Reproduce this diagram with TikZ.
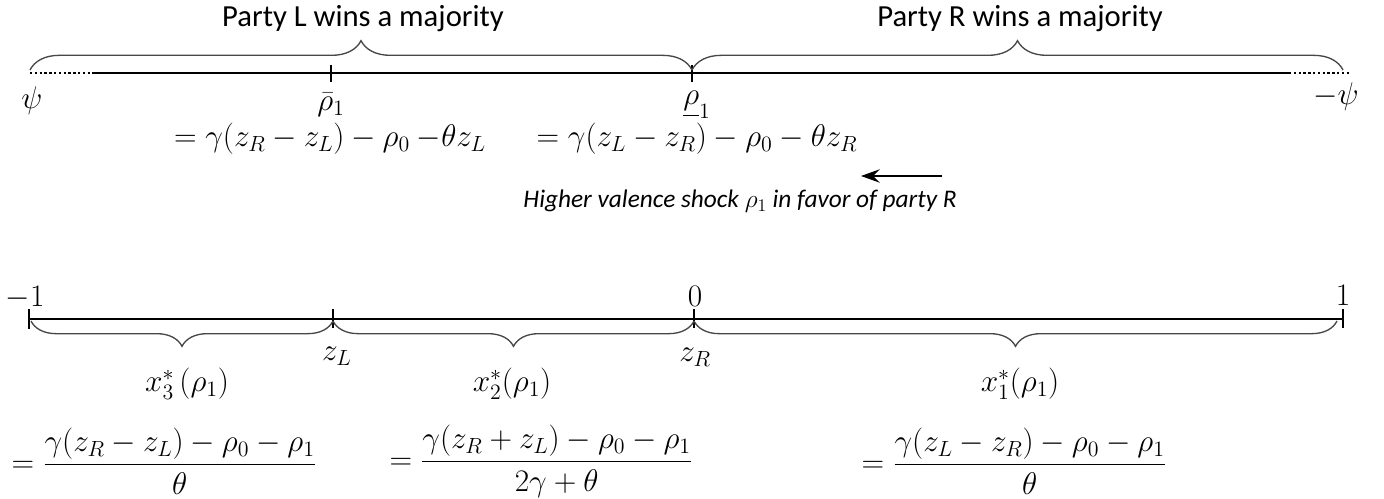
\RequirePackage{fix-cm}
\documentclass[tikz,border=0pt]{standalone}
\usepackage{amsmath}
\usepackage{fontspec}
\newfontfamily\carl{Carlito}
\usetikzlibrary{decorations.pathreplacing,arrows.meta}
\begin{document}
\begin{tikzpicture}[x=0.75pt,y=-0.75pt,
  axis/.style={line width=2.2pt},
  dots/.style={line width=2.2pt, dash pattern=on 1.8pt off 1.8pt},
  tick/.style={line width=1.9pt},
  bracetop/.style={draw=black!72, line width=1pt, decorate, decoration={brace, amplitude=22pt}},
  bracebot/.style={draw=black!72, line width=1pt, decorate, decoration={brace, mirror, amplitude=19pt}},
  arr/.style={line width=1.6pt, -{Stealth[length=14pt, width=10pt, inset=5pt]}},
  txt/.style={font=\carl\fontsize{23}{27}\selectfont, inner sep=0pt},
  itxt/.style={font=\carl\itshape\fontsize{19}{23}\selectfont, inner sep=0pt},
  mth/.style={font=\fontsize{23.5}{28}\selectfont, inner sep=0pt}]
\useasboundingbox (0,0) rectangle (1384,499);

% ---------- top axis ----------
\node[txt] (pl) at (363,19) {Party L wins a majority};
\node[txt] (pr) at (1020,19) {Party R wins a majority};

\coordinate (a0) at (30,73);
\coordinate (a1) at (92,73);
\coordinate (a2) at (1289,73);
\coordinate (a3) at (1351,73);
\draw[dots] (a0) -- (a1);
\draw[axis] (a1) -- (a2);
\draw[dots] (a2) -- (a3);

\coordinate (t1u) at (331,65); \coordinate (t1d) at (331,82);
\coordinate (t2u) at (692,65); \coordinate (t2d) at (692,82);
\draw[tick] (t1u) -- (t1d);
\draw[tick] (t2u) -- (t2d);

\coordinate (b0) at (30,70);
\coordinate (b1) at (692,70);
\coordinate (b2) at (1343,70);
\draw[bracetop] (b0) -- (b1);
\draw[bracetop] (b1) -- (b2);

\node[mth] (psi) at (32,101) {$\psi$};
\node[mth] (rbar) at (331,105) {$\bar{\rho}_1$};
\node[mth] (rund) at (697,105) {$\underline{\rho}_1$};
\node[mth] (mpsi) at (1336,97) {$-\psi$};
\node[mth] (e1) at (330,139) {$=\gamma(z_R-z_L)-\rho_0\mskip\medmuskip{-}\theta z_L$};
\node[mth] (e2) at (697,139) {$=\gamma(z_L-z_R)-\rho_0-\theta z_R$};

\coordinate (ar0) at (942,176);
\coordinate (ar1) at (861,176);
\draw[arr] (ar0) -- (ar1);
\node[itxt, anchor=east] (hv) at (957,201) {Higher valence shock $\rho_1$ in favor of party R};

% ---------- bottom axis ----------
\coordinate (c0) at (29,319);
\coordinate (c3) at (1343,319);
\draw[axis] (c0) -- (c3);
\coordinate (s0u) at (29,309);   \coordinate (s0d) at (29,329);
\coordinate (s1u) at (333,309);  \coordinate (s1d) at (333,328);
\coordinate (s2u) at (694,309);  \coordinate (s2d) at (694,328);
\coordinate (s3u) at (1343,309); \coordinate (s3d) at (1343,328);
\draw[tick] (s0u) -- (s0d);
\draw[tick] (s1u) -- (s1d);
\draw[tick] (s2u) -- (s2d);
\draw[tick] (s3u) -- (s3d);

\coordinate (d0) at (31,321);
\coordinate (d1) at (333,321);
\coordinate (d2) at (694,321);
\coordinate (d3) at (1337,321);
\draw[bracebot] (d0) -- (d1);
\draw[bracebot] (d1) -- (d2);
\draw[bracebot] (d2) -- (d3);

\node[mth] (lm1) at (25,298) {$-1$};
\node[mth] (l0) at (695,296) {$0$};
\node[mth] (l1) at (1343,295) {$1$};
\node[mth] (zl) at (337,356) {$z_L$};
\node[mth] (zr) at (695,357) {$z_R$};
\node[mth] (x3) at (187,384) {$x_3^*\,(\rho_1)$};
\node[mth] (x2) at (512,384) {$x_2^*(\rho_1)$};
\node[mth] (x1) at (1020,384) {$x_1^*(\rho_1)$};

\node[mth] (f1) at (164,461) {$=\dfrac{\gamma(z_R-z_L)-\rho_0-\rho_1}{\theta}$};
\node[mth] (f2) at (541,461) {$=\dfrac{\gamma(z_R+z_L)-\rho_0-\rho_1}{2\gamma+\theta}$};
\node[mth] (f3) at (1014,461) {$=\dfrac{\gamma(z_L-z_R)-\rho_0-\rho_1}{\theta}$};
\end{tikzpicture}
\end{document}
